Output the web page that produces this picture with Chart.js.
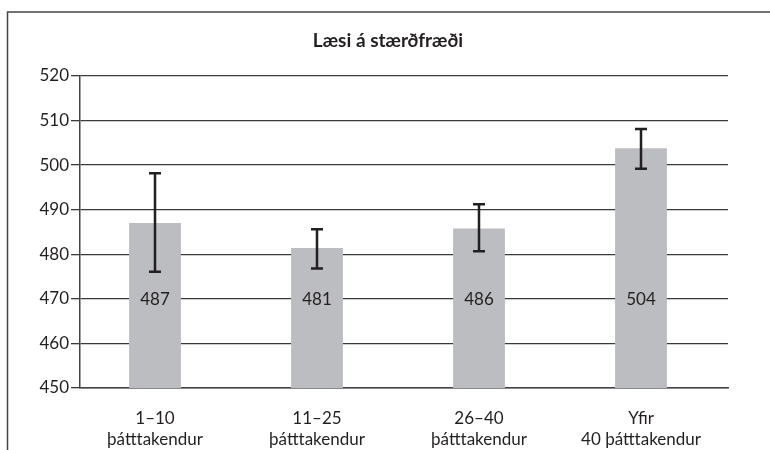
<!DOCTYPE html>
<html>
<head>
<meta charset="utf-8">
<script src="https://cdn.jsdelivr.net/npm/chart.js@4/dist/chart.umd.min.js"></script>
<style>
  html, body { margin: 0; padding: 0; background: #fff; }
  #wrap { position: relative; width: 770px; height: 450px; }
</style>
</head>
<body>
<div id="wrap"><canvas id="chart" width="770" height="450"></canvas></div>
<script>
// gögn lesin af myndinni
const categories = [
    ['1–10', 'þátttakendur'],
    ['11–25', 'þátttakendur'],
    ['26–40', 'þátttakendur'],
    ['Yfir', '40 þátttakendur']
];
const means = [487.0, 481.4, 485.8, 503.8];
const errLow = [476.1, 476.8, 480.7, 499.2];
const errHigh = [498.2, 485.6, 491.2, 508.1];
const yTicks = [450, 460, 470, 480, 490, 500, 510, 520];
const chartTitle = 'Læsi á stærðfræði';

const FONT = 'Lato, "Open Sans", sans-serif';
const INK = '#231f20';

// rammi utan um myndina (vinstri og efri lína) og titill
const framePlugin = {
    id: 'frame',
    afterLayout(chart) {
        // flokkarnir sitja aðeins vinstra megin í frummyndinni
        chart.scales.x._startPixel -= 6;
    },
    beforeDraw(chart) {
        const ctx = chart.ctx;
        ctx.save();
        ctx.strokeStyle = '#444';
        ctx.lineWidth = 1.5;
        ctx.beginPath();
        ctx.moveTo(7.5, 450);
        ctx.lineTo(7.5, 12);
        ctx.lineTo(770, 12);
        ctx.stroke();

        ctx.fillStyle = INK;
        ctx.font = 'bold 19px ' + FONT;
        ctx.textAlign = 'center';
        ctx.textBaseline = 'middle';
        ctx.fillText(chartTitle, 388, 41);
        ctx.restore();
    }
};

// villustrik og gildi inni í súlum
const errorBarPlugin = {
    id: 'errorBars',
    afterDatasetsDraw(chart) {
        const ctx = chart.ctx;
        const y = chart.scales.y;
        const meta = chart.getDatasetMeta(0);
        ctx.save();
        meta.data.forEach((bar, i) => {
            const x = bar.x;
            const top = y.getPixelForValue(errHigh[i]);
            const bot = y.getPixelForValue(errLow[i]);
            ctx.strokeStyle = INK;
            ctx.lineWidth = 2.5;
            ctx.beginPath();
            ctx.moveTo(x, top);
            ctx.lineTo(x, bot);
            ctx.moveTo(x - 6, top);
            ctx.lineTo(x + 6, top);
            ctx.moveTo(x - 6, bot);
            ctx.lineTo(x + 6, bot);
            ctx.stroke();

            ctx.fillStyle = INK;
            ctx.font = '17px ' + FONT;
            ctx.textAlign = 'center';
            ctx.textBaseline = 'middle';
            ctx.fillText(Math.round(means[i]), x, y.getPixelForValue(470) + 1);
        });
        ctx.restore();
    }
};

new Chart(document.getElementById('chart'), {
    type: 'bar',
    data: {
        labels: categories,
        datasets: [{
            data: means,
            backgroundColor: '#bcbdc0',
            borderWidth: 0,
            barPercentage: 0.32,
            categoryPercentage: 1
        }]
    },
    options: {
        responsive: false,
        animation: false,
        devicePixelRatio: 1,
        layout: { padding: { left: 0, right: 42, top: 76, bottom: 0 } },
        plugins: {
            legend: { display: false },
            tooltip: { enabled: false },
            title: { display: false }
        },
        scales: {
            x: {
                grid: { display: false },
                border: { display: true, color: '#444', width: 1.5 },
                ticks: {
                    color: INK,
                    font: { family: FONT, size: 17, lineHeight: 1.24 },
                    padding: 12,
                    maxRotation: 0
                },
                afterFit(scale) { scale.height = 62; }
            },
            y: {
                min: 450,
                max: 520,
                afterBuildTicks(scale) {
                    scale.ticks = yTicks.map(v => ({ value: v }));
                },
                grid: { color: '#3a3a3a', lineWidth: 1.3, tickLength: 9, drawTicks: true },
                border: { display: true, color: '#444', width: 1.5 },
                ticks: {
                    color: INK,
                    font: { family: FONT, size: 17 },
                    padding: 2
                },
                afterFit(scale) { scale.width = 80; }
            }
        }
    },
    plugins: [framePlugin, errorBarPlugin]
});
</script>
</body>
</html>
